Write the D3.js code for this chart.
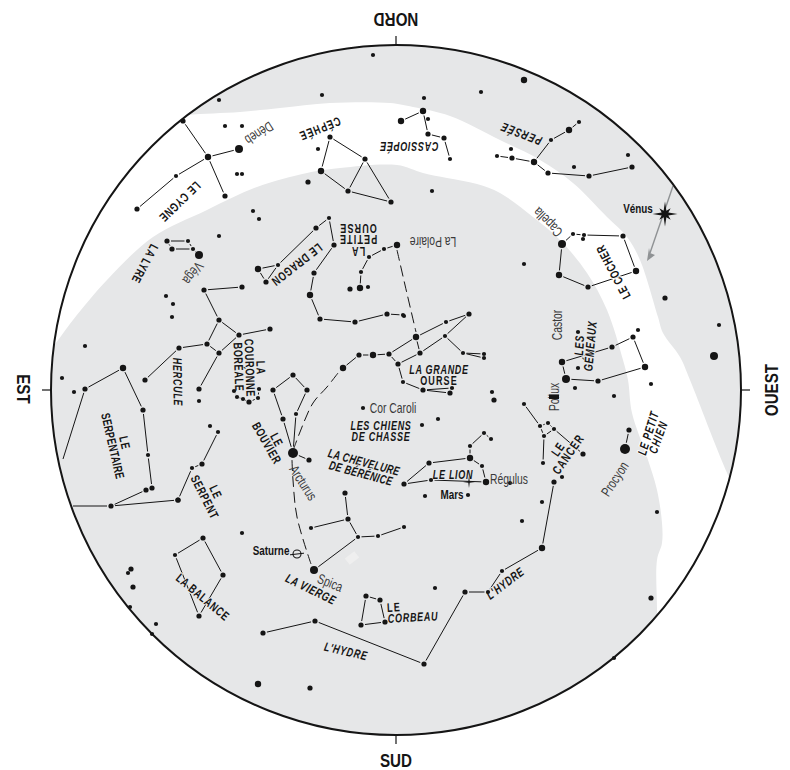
<!DOCTYPE html>
<html><head><meta charset="utf-8">
<script src="https://cdn.jsdelivr.net/npm/d3@7"></script>
<style>
html,body{margin:0;padding:0;background:#fff}
text{font-family:"Liberation Sans",sans-serif}
</style></head><body>
<div id="chart"></div>
<script>
// Sky plate coordinates (east-west, north-south) and magnitude class, one list per constellation
const cygne=[[183,121,2],[208,157,3],[239,149,4],[225,196,2],[176,176,1],[137,209,2]];
const cygneLinks=[[0,1],[1,3],[2,1],[1,4],[4,5]];
const cephee=[[330,137,2],[365,159,2],[321,171,3],[348,191,2],[391,202,2]];
const cepheeLinks=[[0,1],[0,2],[2,3],[3,4],[3,1],[1,4]];
const lyre=[[167,241,2],[188,241,1],[172,249,2],[193,249,1],[199,255,4]];
const lyreLinks=[[0,1],[0,2],[2,3],[1,3],[3,4]];
const dragon=[[329,218,1],[316,228,2],[334,245,2],[314,273,2],[310,295,3],[320,319,2],[355,322,2],[387,314,2],[403,315,1],[278,265,1],[258,269,3],[266,282,2]];
const dragonLinks=[[1,9],[9,10],[10,11],[11,9],[1,0],[0,2],[2,3],[3,4],[4,5],[5,6],[6,7],[7,8]];
const petiteOurse=[[397,245,3],[384,249,1],[369,257,1],[361,272,1],[360,288,3],[350,289,2],[368,287,1]];
const petiteOurseLinks=[[0,1],[1,2],[2,3],[3,4]];
const hercule=[[204,290,2],[242,287,2],[219,320,2],[239,335,2],[270,329,2],[207,344,2],[219,353,2],[179,348,2],[145,380,2],[199,389,2]];
const herculeLinks=[[0,1],[0,2],[2,3],[3,4],[2,5],[5,6],[3,6],[5,7],[7,8],[6,9]];
const serpentaire=[[123,368,3],[85,389,2],[143,410,2],[148,455,1],[152,488,2],[146,490,2],[111,506,2],[178,500,2]];
const serpentaireLinks=[[0,1],[0,2],[2,3],[3,4],[5,6],[6,7]];
const serpentaireOpen=[[85,389,63,459],[111,506,73,506]];
const serpent=[[178,500,2],[192,468,1],[202,464,2],[218,432,1],[210,426,1]];
const serpentLinks=[[0,1],[1,2],[2,3]];
const couronne=[[234,391,1],[237,397,1],[243,399,1],[249,402,2],[258,398,1],[259,389,1]];
const couronneLinks=[[0,1],[1,2],[2,3],[3,4],[4,5]];
const bouvier=[[293,375,2],[273,390,2],[307,390,2],[283,419,2],[296,414,1],[293,453,5],[309,460,2]];
const bouvierLinks=[[0,1],[0,2],[1,3],[3,5],[2,4],[4,5],[5,6]];
const grandeOurse=[[343,368,3],[359,355,2],[373,355,3],[389,354,2],[398,364,2],[420,353,2],[416,337,3],[446,322,1],[469,314,2],[445,336,1],[463,353,1],[484,354,1],[484,358,1],[403,382,1],[423,390,2],[452,388,1],[450,393,2]];
const grandeOurseLinks=[[0,1],[1,2],[2,3],[3,4],[3,6],[4,5],[6,5],[6,7],[7,8],[5,9],[9,8],[9,10],[10,11],[10,12],[4,13],[13,14],[14,15],[14,16]];
const lion=[[404,484,2],[429,463,2],[470,458,3],[431,480,1],[486,482,3],[482,466,1],[470,446,1],[484,433,1],[491,439,1]];
const lionLinks=[[0,1],[1,2],[2,5],[5,4],[2,6],[6,7],[7,8],[0,3],[3,4]];
const cancer=[[524,404,1],[540,426,1],[548,423,1],[554,429,1],[544,436,1],[543,463,1],[583,454,2]];
const cancerLinks=[[0,1],[1,2],[2,3],[3,4],[4,1],[4,5],[3,6]];
const gemeaux=[[562,362,3],[566,379,4],[598,381,2],[645,367,3],[633,337,2],[612,347,2],[638,330,1]];
const gemeauxLinks=[[1,0],[0,5],[5,4],[4,3],[3,2],[2,1]];
const petitChien=[[625,449,5],[629,430,2]];
const petitChienLinks=[[0,1]];
const cocher=[[562,244,4],[573,234,1],[584,235,1],[583,239,1],[623,236,2],[636,271,3],[559,275,3],[588,287,2]];
const cocherLinks=[[0,1],[1,2],[2,4],[4,5],[0,6],[6,7],[7,5]];
const persee=[[579,122,1],[569,130,3],[551,140,1],[534,162,3],[548,173,2],[589,176,2],[632,167,2],[512,158,2],[497,156,1]];
const perseeLinks=[[0,1],[1,2],[2,3],[3,4],[4,5],[5,6],[3,7],[7,8]];
const cassiopee=[[401,121,3],[423,111,3],[428,119,1],[428,134,2],[444,138,2],[450,159,1]];
const cassiopeeLinks=[[0,1],[1,3],[3,4],[4,5]];
const vierge=[[314,570,4],[358,537,1],[378,536,1],[404,527,1],[348,519,2],[311,528,1],[345,493,2]];
const viergeLinks=[[0,1],[1,2],[2,3],[1,4],[4,5],[4,6]];
const balance=[[203,538,2],[175,555,1],[223,575,2],[199,616,2]];
const balanceLinks=[[0,1],[0,2],[1,3],[2,3]];
const hydre=[[263,633,2],[315,621,2],[424,664,2],[465,592,2],[488,592,1],[502,571,1],[542,548,3],[554,482,2]];
const hydreLinks=[[0,1],[1,2],[2,3],[3,4],[4,5],[5,6],[6,7]];
const corbeau=[[366,596,2],[380,600,2],[385,622,2],[361,625,2]];
const corbeauLinks=[[0,1],[1,2],[2,3],[3,0]];
const fieldStars=[[225,126,1],[242,126,1],[237,174,1],[242,174,1],[219,100,1],[322,95,1],[318,149,1],[308,182,2],[253,211,1],[259,219,1],[219,236,1],[166,296,1],[173,304,1],[172,317,1],[85,346,1],[199,401,1],[62,378,1],[74,392,1],[578,332,1],[578,368,1],[575,388,1],[614,396,1],[651,384,1],[524,264,1],[665,298,2],[719,325,1],[714,356,4],[404,316,1],[432,191,1],[524,80,3],[481,92,1],[424,98,1],[373,55,1],[511,149,1],[574,167,1],[628,155,1],[363,408,1],[422,425,1],[438,419,1],[492,392,1],[494,400,2],[425,496,1],[510,483,1],[468,495,1],[542,502,1],[522,521,1],[435,588,1],[657,512,1],[651,598,2],[614,658,1],[242,533,1],[131,569,2],[128,573,1],[133,587,2],[130,607,1],[156,624,1],[152,634,1],[258,684,3],[310,688,2],[562,477,1]];
// Dashed pointers between stars
const pointerPolaris=[[397,250],[405,285],[416,332]];
const pointerArc=[[338,373],[327,387],[313,403],[300,432],[294,448]];
const pointerSpica=[[292,460],[293,480],[297,517],[311,564]];
// Ecliptic planets
const venus=[665,214];const venusArrow=[[673,186],[647,261]];
const mars=[469,482];const saturne=[297,554];
// The pale Milky Way band, upper and inner borders
const bandUpper=[[150,120],[187,115],[240,112],[280,108],[330,103],[390,103],[413,107],[450,116],[500,140],[540,160],[573,183],[607,217],[627,237],[640,260],[658,317],[663,333],[680,357],[690,380],[728,475],[760,540]];
const bandInner=[[20,390],[53,347],[73,320],[107,280],[153,237],[207,210],[257,187],[307,173],[340,168],[397,165],[423,173],[447,178],[477,184],[500,193],[533,217],[560,240],[587,273],[607,310],[623,360],[628,380],[632,413],[647,457],[657,490],[662,523],[662,543],[657,560],[657,610],[657,660]];
// Cardinal points
const cardinalLabels=["NORD","SUD","EST","OUEST"];
const cardinalPlaces=[[396,20,180],[396,760,0],[24,389,90],[771,390,-90]];
// Text labels: words, place, angle
const constellationNames=[
["LE CYGNE",180,202,136],["CÉPHÉE",320,129,158],["CASSIOPÉE",409,147,180],["PERSÉE",521,134,201],["LE COCHER",613,272,-118],
["LA LYRE",145,264,118],["LE DRAGON",297,265,142],["OURSE",358,229,180],["PETITE",358,240,180],["LA",358,252,180],
["HERCULE",178,382,89],["LA",261,368,88],["COURONNE",250,368,88],["BORÉALE",239,367,88],["LE",125,443,77],["SERPENTAIRE",113,446,77],
["LE",216,492,65],["SERPENT",205,497,63],["LE",277,440,62],["BOUVIER",267,443,60],["LA CHEVELURE",364,462,15],["DE BÉRÉNICE",361,473,15],
["LES CHIENS",381,425,0],["DE CHASSE",381,436,0],["LA GRANDE",439,369,0],["OURSE",439,380,0],["LE LION",453,474,0],
["LA VIERGE",311,589,26],["LA BALANCE",203,597,40],["L'HYDRE",346,651,13],["L'HYDRE",505,583,-37],["LE",394,607,-3],["CORBEAU",413,617,-3],
["LE",558,449,-55],["CANCER",568,454,-55],["LE PETIT",648,433,-73],["CHIEN",658,437,-70],["LES",579,345,-87],["GÉMEAUX",590,346,-85]];
const italicNames=new Set(["CASSIOPÉE","PERSÉE","HERCULE","LA CHEVELURE","DE BÉRÉNICE","LES CHIENS","DE CHASSE","LA GRANDE","LE LION","LA VIERGE","L'HYDRE","CORBEAU","LE PETIT","CHIEN","GÉMEAUX","LES"]);
const whiteGround=new Set(["LE CYGNE","CÉPHÉE","CASSIOPÉE","LE PETIT","CHIEN","LE COCHER"]);
const starNames=[["Déneb",259,133,147],["Véga",193,273,128],["La Polaire",433,242,180],["Capella",548,222,225],["Castor",557,325,-90],["Pollux",554,397,-90],["Cor Caroli",393,408,0],["Régulus",509,479,0],["Arcturus",303,483,57],["Spica",330,583,22],["Procyon",615,479,-57]];
const planetNames=[["Vénus",638,208],["Mars",452,494],["Saturne",271,550]];

const constellations=[[cygne,cygneLinks],[cephee,cepheeLinks],[lyre,lyreLinks],[dragon,dragonLinks],[petiteOurse,petiteOurseLinks],[hercule,herculeLinks],[serpentaire,serpentaireLinks],[serpent,serpentLinks],[couronne,couronneLinks],[bouvier,bouvierLinks],[grandeOurse,grandeOurseLinks],[lion,lionLinks],[cancer,cancerLinks],[gemeaux,gemeauxLinks],[petitChien,petitChienLinks],[cocher,cocherLinks],[persee,perseeLinks],[cassiopee,cassiopeeLinks],[vierge,viergeLinks],[balance,balanceLinks],[hydre,hydreLinks],[corbeau,corbeauLinks]];

const W=790,H=770,cx=396,cy=390,R=345;
const INK="#151515",SKY="#e6e7e8";
const x=d3.scaleLinear().domain([cx-R,cx+R]).range([cx-R,cx+R]);
const y=d3.scaleLinear().domain([cy-R,cy+R]).range([cy-R,cy+R]);
const rad=d3.scaleOrdinal().domain([1,2,3,4,5]).range([2.1,2.6,3.2,4,5]);

const svg=d3.select("#chart").append("svg").attr("width",W).attr("height",H).style("display","block");
svg.append("clipPath").attr("id","disc").append("circle").attr("cx",cx).attr("cy",cy).attr("r",R);
svg.append("circle").attr("cx",cx).attr("cy",cy).attr("r",R).attr("fill",SKY);
const bandLine=d3.line().x(d=>x(d[0])).y(d=>y(d[1])).curve(d3.curveCatmullRom.alpha(.5));
const upperPath=bandLine(bandUpper);
const innerPath=bandLine(bandInner.slice().reverse());
svg.append("path").attr("clip-path","url(#disc)").attr("fill","#fff")
  .attr("d",upperPath+"L800,800L"+x(657)+","+y(660)+innerPath.replace(/^M/,"L")+"L0,300Z");
svg.append("rect").attr("x",-6).attr("y",-4).attr("width",12).attr("height",8).attr("fill","#efefef")
  .attr("transform",`translate(${x(352)},${y(558)}) rotate(-38)`);

// constellation lines, kept short of each star
const seg=svg.append("g").attr("stroke",INK).attr("stroke-width",1).attr("fill","none");
function link(a,b,ga,gb){
  const dx=x(b[0])-x(a[0]),dy=y(b[1])-y(a[1]),L=Math.hypot(dx,dy),ux=dx/L,uy=dy/L;
  seg.append("line").attr("x1",x(a[0])+ux*ga).attr("y1",y(a[1])+uy*ga).attr("x2",x(b[0])-ux*gb).attr("y2",y(b[1])-uy*gb);
}
constellations.forEach(([stars,links])=>links.forEach(([i,j])=>{
  const a=stars[i],b=stars[j];
  link(a,b,rad(a[2])+1.4,rad(b[2])+1.4);
}));
serpentaireOpen.forEach(d=>link([d[0],d[1]],[d[2],d[3]],4,0));
const dashes=svg.append("g").attr("stroke",INK).attr("stroke-width",1).attr("fill","none").attr("stroke-dasharray","11 5");
[pointerPolaris,pointerArc,pointerSpica].forEach(p=>dashes.append("path").attr("d",d3.line().x(d=>x(d[0])).y(d=>y(d[1])).curve(d3.curveCatmullRom)(p)));

// labels, condensed
function place(s,px,py,rot,sx){return s.attr("text-anchor","middle").attr("dominant-baseline","central").attr("transform",`translate(${x(px)},${y(py)}) rotate(${rot}) scale(${sx},1)`);}
const nameG=svg.append("g");
constellationNames.forEach(d=>{
  const n=d[0].length, spacing=n>=11?.5:(n>=7?1:1.6);
  place(nameG.append("text").text(d[0]),d[1],d[2],d[3],.72).attr("font-size",12.5).attr("font-weight",700).attr("letter-spacing",spacing)
   .attr("font-style",italicNames.has(d[0])?"italic":"normal").attr("fill",INK)
   .attr("stroke",whiteGround.has(d[0])?"#fff":SKY).attr("stroke-width",2.2).attr("paint-order","stroke").attr("stroke-linejoin","round");
});

// stars
const allStars=constellations.flatMap(c=>c[0]).concat(fieldStars);
svg.append("g").attr("fill",INK).selectAll("circle").data(allStars).join("circle")
  .attr("cx",d=>x(d[0])).attr("cy",d=>y(d[1])).attr("r",d=>rad(d[2]));

// Venus: arrow and eight-point star
const tip=[x(venusArrow[1][0]),y(venusArrow[1][1])];
svg.append("line").attr("x1",x(venusArrow[0][0])).attr("y1",y(venusArrow[0][1])).attr("x2",tip[0]+3).attr("y2",tip[1]-8).attr("stroke","#8f9294").attr("stroke-width",1.4);
const ah=[[0,0],[2,-13],[3,-8],[8,-6]];
svg.append("path").attr("d","M"+ah.map(p=>p.join(",")).join("L")+"Z").attr("fill","#8f9294")
  .attr("transform",`translate(${tip[0]},${tip[1]})`);
function burst(n,rO,rD,rI){return d3.range(n*2).map(i=>{const a=i*Math.PI/n-Math.PI/2,r=i%2?rI:(i%4?rD:rO);return [r*Math.cos(a),r*Math.sin(a)].join(",");}).join("L");}
svg.append("path").attr("d","M"+burst(8,12.5,8,3.6)+"Z").attr("fill",INK).attr("transform",`translate(${x(venus[0])},${y(venus[1])})`);
svg.append("path").attr("d","M"+burst(4,6,6,1)+"Z").attr("fill",INK).attr("transform",`translate(${x(mars[0])},${y(mars[1])})`);
// Saturn
svg.append("circle").attr("cx",x(saturne[0])).attr("cy",y(saturne[1])).attr("r",4).attr("fill","none").attr("stroke",INK).attr("stroke-width",1.1);
svg.append("line").attr("x1",x(saturne[0])-7).attr("y1",y(saturne[1])+.8).attr("x2",x(saturne[0])+7).attr("y2",y(saturne[1])-.8).attr("stroke",INK).attr("stroke-width",1);

// disc edge and ticks
svg.append("circle").attr("cx",cx).attr("cy",cy).attr("r",R).attr("fill","none").attr("stroke",INK).attr("stroke-width",2);
[[0,-1],[0,1],[-1,0],[1,0]].forEach(([a,b])=>svg.append("line").attr("x1",cx+a*R).attr("y1",cy+b*R).attr("x2",cx+a*(R+9)).attr("y2",cy+b*(R+9)).attr("stroke",INK).attr("stroke-width",1.2));

cardinalLabels.forEach((t,i)=>{const p=cardinalPlaces[i];
  place(svg.append("text").text(t),p[0],p[1],p[2],.8).attr("font-size",19).attr("font-weight",700).attr("fill",INK);});
starNames.forEach(d=>{
  place(svg.append("text").text(d[0]),d[1],d[2],d[3],.74).attr("font-size",14).attr("fill","#3a3a3a");
});
svg.append("rect").attr("x",549).attr("y",394.5).attr("width",10).attr("height",4.5).attr("fill",INK);
planetNames.forEach(d=>{
  place(svg.append("text").text(d[0]),d[1],d[2],0,.76).attr("font-size",13).attr("font-weight",700).attr("fill",INK);
});
</script></body></html>
